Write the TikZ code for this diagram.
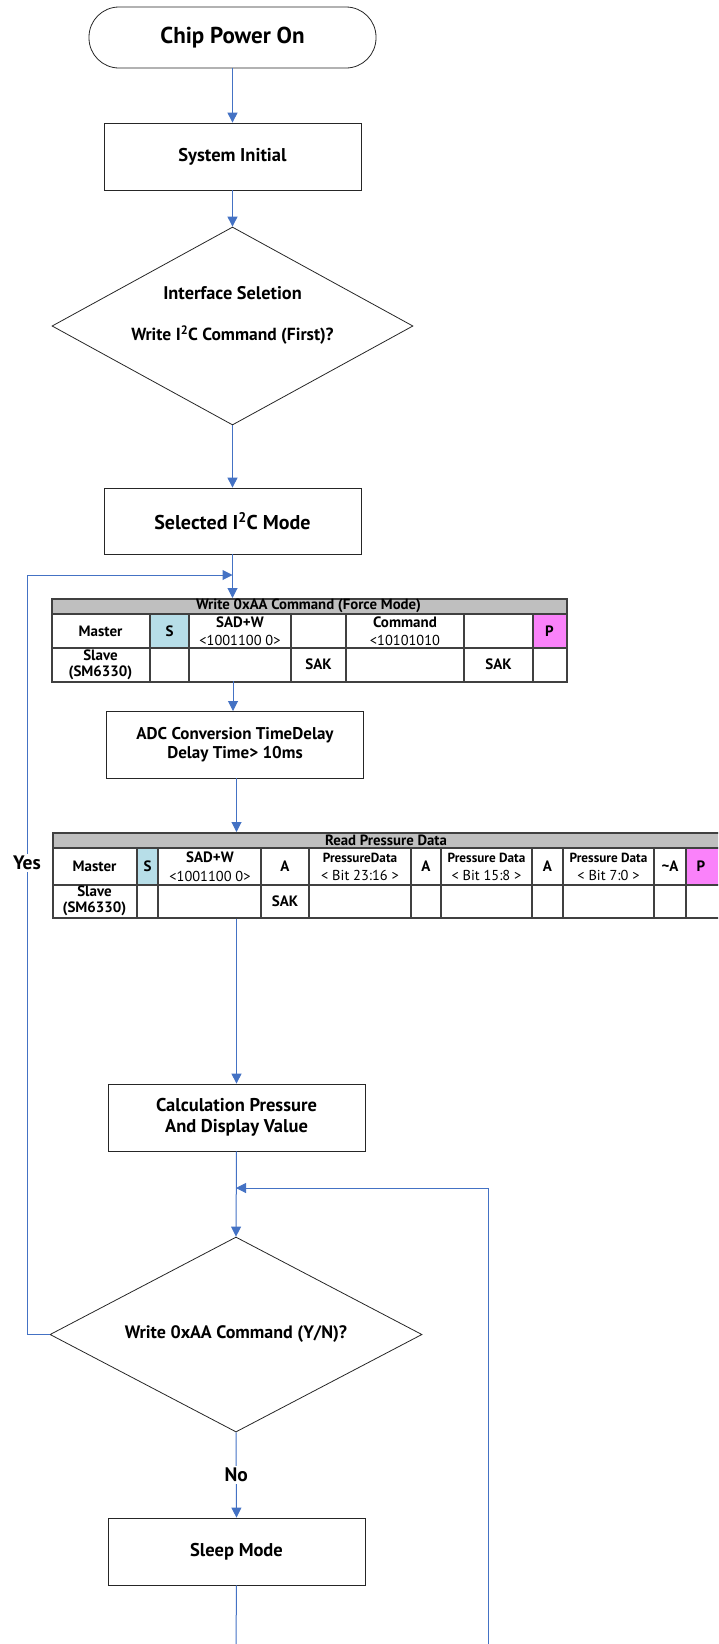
\documentclass[tikz,border=0pt]{standalone}
\usepackage{fontspec}
\setmainfont{PT Sans}
\usetikzlibrary{shapes.geometric,arrows.meta}

\definecolor{linkblue}{RGB}{68,114,196}
\definecolor{hdrgray}{RGB}{191,191,191}
\definecolor{sblue}{RGB}{183,222,232}
\definecolor{ppink}{RGB}{250,130,250}
\newcommand{\flowtxt}{\bfseries\fontsize{18.5}{21}\selectfont}
\newcommand{\tabtxt}{\bfseries\fontsize{15}{18}\selectfont}
\newcommand{\valtxt}{\mdseries\fontsize{14.4}{18}\selectfont}

\begin{document}
\begin{tikzpicture}[x=1pt, y=-1pt,
    terminal/.style ={rectangle, rounded corners=30pt, draw=black!85, line width=0.8pt,
      minimum width=287pt, minimum height=61pt, font=\bfseries\fontsize{23}{26}\selectfont},
    process/.style ={rectangle, draw=black!85, line width=0.8pt, minimum width=257pt,
      minimum height=67pt, align=center, font=\flowtxt},
    decision/.style ={diamond, aspect=1.9, draw=black!85, line width=0.8pt, inner sep=0pt,
      align=center, font=\flowtxt},
    link/.style ={draw=linkblue, line width=1pt},
    linkarrow/.style ={link, -{Triangle[width=10pt,length=10pt]}},
    tabline/.style ={draw=black!75, line width=1.5pt},
    tabframe/.style ={rectangle, tabline, inner sep=0pt, anchor=north west},
    tabhead/.style ={inner sep=0pt, font=\bfseries\fontsize{14.8}{16}\selectfont},
    tabcell/.style ={align=center, inner sep=0pt, font=\tabtxt},
    datacell/.style ={tabcell, font=\bfseries\fontsize{13.2}{18}\selectfont},
    yesno/.style ={fill=white, inner sep=2pt, font=\bfseries\fontsize{19.5}{22}\selectfont}]
   \useasboundingbox (0,0) rectangle (718,1644);
   \clip (0,0) rectangle (718,1644);

   % flow boxes
   \node[terminal] (start) at (232.5,37.5) {Chip Power On};
   \node[process] (init) at (232.5,156.5) {System Initial};
   \node[decision, minimum width=361pt, minimum height=198pt] (iface) at (232.5,326) {};
   \node[font=\bfseries\fontsize{18.3}{21}\selectfont] (ifacea) at (232.5,293) {Interface Seletion};
   \node[font=\bfseries\fontsize{17.5}{21}\selectfont] (ifaceb) at (232.5,335) {Write I\textsuperscript{2}C Command (First)?};
   \node[process, minimum height=66pt, font=\bfseries\fontsize{20}{23}\selectfont] (sel) at (232.5,521) {Selected I\textsuperscript{2}C Mode};
   \node[process, font=\bfseries\fontsize{17}{19.5}\selectfont] (adc) at (235,744.5) {ADC Conversion TimeDelay\\Delay Time> 10ms};
   \node[process, font=\bfseries\fontsize{18.5}{21}\selectfont] (calc) at (236.5,1117.5) {Calculation Pressure\\And Display Value};
   \node[decision, minimum width=372pt, minimum height=195pt, font=\bfseries\fontsize{18}{21}\selectfont] (again) at (236,1334.5) {Write 0xAA Command (Y/N)?};
   \node[process] (sleep) at (236.5,1551.5) {Sleep Mode};

   % write 0xAA table
   \fill[hdrgray] (51,598) rectangle (566,614);
   \fill[sblue] (150,614) rectangle (189,648);
   \fill[ppink] (533,614) rectangle (566,648);
   \node[tabframe, minimum width=515pt, minimum height=83pt] (wr) at (51,598) {};
   \draw[tabline] (51,614) -- (566,614) (51,648) -- (566,648);
   \draw[tabline] (150,614) -- (150,681) (189,614) -- (189,681) (291,614) -- (291,681)
     (346,614) -- (346,681) (464,614) -- (464,681) (533,614) -- (533,681);
   \node[tabhead] (wrhead) at (308.5,606) {Write 0xAA Command (Force Mode)};
   \node[tabcell] (wrmaster) at (100.5,631) {Master};
   \node[tabcell] (wrs) at (169.5,631) {S};
   \node[tabcell] (wrsad) at (240,631) {SAD+W\\\valtxt <1001100 0>};
   \node[tabcell] (wrcmd) at (405,631) {Command\\\valtxt <10101010};
   \node[tabcell] (wrp) at (549.5,631) {P};
   \node[tabcell, font=\bfseries\fontsize{15}{16}\selectfont] (wrslave) at (100.5,664.5) {Slave\\(SM6330)};
   \node[tabcell] (wrsak) at (318.5,664.5) {SAK};
   \node[tabcell] (wrsakb) at (498.5,664.5) {SAK};

   % read pressure table
   \fill[hdrgray] (52,832) rectangle (724,848);
   \fill[sblue] (137,848) rectangle (158,885);
   \fill[ppink] (686,848) rectangle (724,885);
   \node[tabframe, minimum width=672pt, minimum height=85pt] (rd) at (52,832) {};
   \draw[tabline] (52,848) -- (724,848) (52,885) -- (724,885);
   \draw[tabline] (137,848) -- (137,917) (158,848) -- (158,917) (261,848) -- (261,917)
     (309,848) -- (309,917) (411,848) -- (411,917) (441,848) -- (441,917)
     (532,848) -- (532,917) (563,848) -- (563,917) (654,848) -- (654,917)
     (686,848) -- (686,917);
   \node[tabhead] (rdhead) at (386,840) {Read Pressure Data};
   \node[tabcell] (rdmaster) at (94.5,866.5) {Master};
   \node[tabcell] (rds) at (147.5,866.5) {S};
   \node[tabcell, font=\bfseries\fontsize{15}{19}\selectfont] (rdsad) at (210,866.5) {SAD+W\\\valtxt <1001100 0>};
   \node[tabcell] (rda) at (285,866.5) {A};
   \node[datacell] (rdhi) at (360,866.5) {PressureData\\\valtxt < Bit 23:16 >};
   \node[tabcell] (rdab) at (426,866.5) {A};
   \node[datacell] (rdmid) at (486.5,866.5) {Pressure Data\\\valtxt < Bit 15:8 >};
   \node[tabcell] (rdac) at (547.5,866.5) {A};
   \node[datacell] (rdlo) at (608.5,866.5) {Pressure Data\\\valtxt < Bit 7:0 >};
   \node[tabcell] (rdnack) at (670,866.5) {\textasciitilde A};
   \node[tabcell] (rdp) at (701,866.5) {P};
   \node[tabcell, font=\bfseries\fontsize{15}{16}\selectfont] (rdslave) at (94.5,901) {Slave\\(SM6330)};
   \node[tabcell] (rdsak) at (285,901) {SAK};

   % loop ends
   \coordinate (yesleft) at (27,575);
   \coordinate (yesjoin) at (232.5,575);
   \coordinate (loopbot) at (488,1644);
   \coordinate (loopjoin) at (236,1188);
   \coordinate (sleepbot) at (236,1644);

   \draw[linkarrow] (start) to (init);
   \draw[linkarrow] (init) to (iface);
   \draw[linkarrow] (iface) to (sel);
   \draw[linkarrow] (sel.south) to (sel.south |- wr.north);
   \draw[linkarrow] (233,681) to (233,711);
   \draw[linkarrow] (adc.south -| calc.north) to (calc.north |- rd.north);
   \draw[linkarrow] (calc.north |- rd.south) to (calc.north);
   \draw[linkarrow] (calc.south) to (again.north);
   \draw[linkarrow] (again.south) to node[yesno] (no) {No} (sleep.north);
   \draw[link] (sleep.south) to (sleepbot);
   \draw[linkarrow] (loopbot) |- (loopjoin);
   \draw[linkarrow] (again.west) -| (yesleft) -- (yesjoin);
   \node[yesno] (yes) at (27,863) {Yes};
 \end{tikzpicture}
\end{document}
